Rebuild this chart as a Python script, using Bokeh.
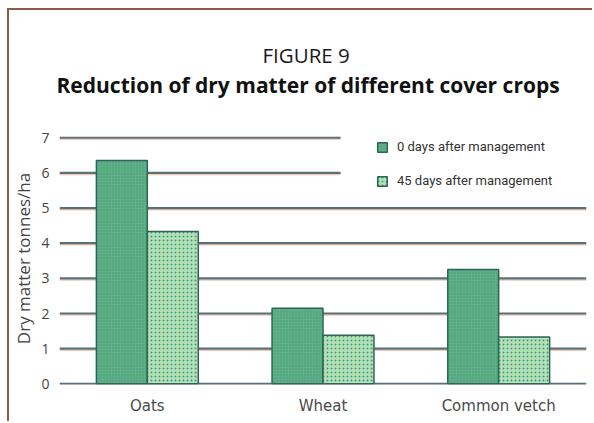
from bokeh.plotting import figure
from bokeh.models import Range1d, FixedTicker, Legend, LegendItem, ColumnDataSource, Title
from bokeh.embed import file_html
from bokeh.resources import INLINE

crops = ["Oats", "Wheat", "Common vetch"]
day0 = [6.35, 2.15, 3.25]
day45 = [4.33, 1.38, 1.33]
yticks = [0, 1, 2, 3, 4, 5, 6, 7]
series_labels = ["0 days after management", "45 days after management"]

FONT = "Open Sans"
xc = [i + 0.5 for i in range(len(crops))]
bw = 0.29

p = figure(width=585, height=413, output_backend="svg", toolbar_location=None,
           x_range=Range1d(0, 3), y_range=Range1d(-0.02, 7.15),
           min_border_left=44, min_border_right=8, min_border_top=122, min_border_bottom=39)
p.styles = {"border-left": "2px solid #8a5a4a", "border-top": "2px solid #8a5a4a",
            "margin-left": "7px", "margin-top": "8px"}
p.outline_line_color = None
p.background_fill_color = "white"
p.border_fill_color = "white"
p.grid.visible = False

# title stack (nearest the frame first)
p.add_layout(Title(text=" ", text_font_size="1px", standoff=31), "above")
p.add_layout(Title(text="Reduction of dry matter of different cover crops", text_font=FONT,
                   text_font_size="21px", text_font_style="bold", text_color="#111111",
                   align="left", offset=-3, standoff=0), "above")
p.title.text = "FIGURE 9"
p.title.text_font = FONT
p.title.text_font_size = "20.5px"
p.title.text_font_style = "normal"
p.title.text_color = "#1a1a1a"
p.title.align = "left"
p.title.offset = 203
p.title.standoff = 0

# gridlines (with print-shadow)
for t in yticks:
    x1 = 1.6 if t >= 6 else 3.0
    p.segment(x0=[0], x1=[x1], y0=[t - 0.045], y1=[t - 0.045], line_color="#f6c7b2", line_width=1.5)
    p.segment(x0=[0], x1=[x1], y0=[t], y1=[t], line_color="#587078", line_width=2.2)

src = ColumnDataSource(dict(x0=[x - bw / 2 for x in xc], x1=[x + bw / 2 for x in xc], d0=day0, d45=day45))
r0 = p.vbar(x="x0", top="d0", width=bw, bottom=0, source=src, fill_color="#5fb087",
            line_color="#2b6658", line_width=1.5, hatch_pattern="dot", hatch_scale=3,
            hatch_color="#3f9a78", hatch_weight=1)
r1 = p.vbar(x="x1", top="d45", width=bw, bottom=0, source=src, fill_color="#b9dfb3",
            line_color="#2b6658", line_width=1.5, hatch_pattern="dot", hatch_scale=4,
            hatch_color="#2fa08e", hatch_weight=1.5)

legend = Legend(items=[LegendItem(label=series_labels[0], renderers=[r0]),
                       LegendItem(label=series_labels[1], renderers=[r1])],
                location=(317, 196), orientation="vertical",
                glyph_width=12, glyph_height=12, label_height=12, spacing=19,
                label_standoff=9, padding=0, margin=0,
                background_fill_alpha=0, border_line_color=None,
                label_text_font="Roboto", label_text_font_size="13px",
                label_text_color="#333333")
p.add_layout(legend)

p.xaxis.ticker = FixedTicker(ticks=xc)
p.xaxis.major_label_overrides = {x: c for x, c in zip(xc, crops)}
p.xaxis.axis_line_color = None
p.xaxis.major_tick_line_color = None
p.xaxis.major_label_text_font = "DejaVu Sans"
p.xaxis.major_label_text_font_size = "15px"
p.xaxis.major_label_text_color = "#4a4a4a"
p.xaxis.major_label_standoff = 6

p.yaxis.ticker = FixedTicker(ticks=yticks)
p.yaxis.axis_line_color = None
p.yaxis.major_tick_line_color = None
p.yaxis.major_label_text_font = FONT
p.yaxis.major_label_text_font_size = "14px"
p.yaxis.major_label_text_color = "#444444"
p.yaxis.major_label_standoff = 4
p.yaxis.axis_label = "Dry matter tonnes/ha"
p.yaxis.axis_label_text_font = FONT
p.yaxis.axis_label_text_font_style = "normal"
p.yaxis.axis_label_text_font_size = "17px"
p.yaxis.axis_label_text_color = "#444444"
p.yaxis.axis_label_standoff = 3

open("out.html", "w").write(file_html(p, INLINE))
